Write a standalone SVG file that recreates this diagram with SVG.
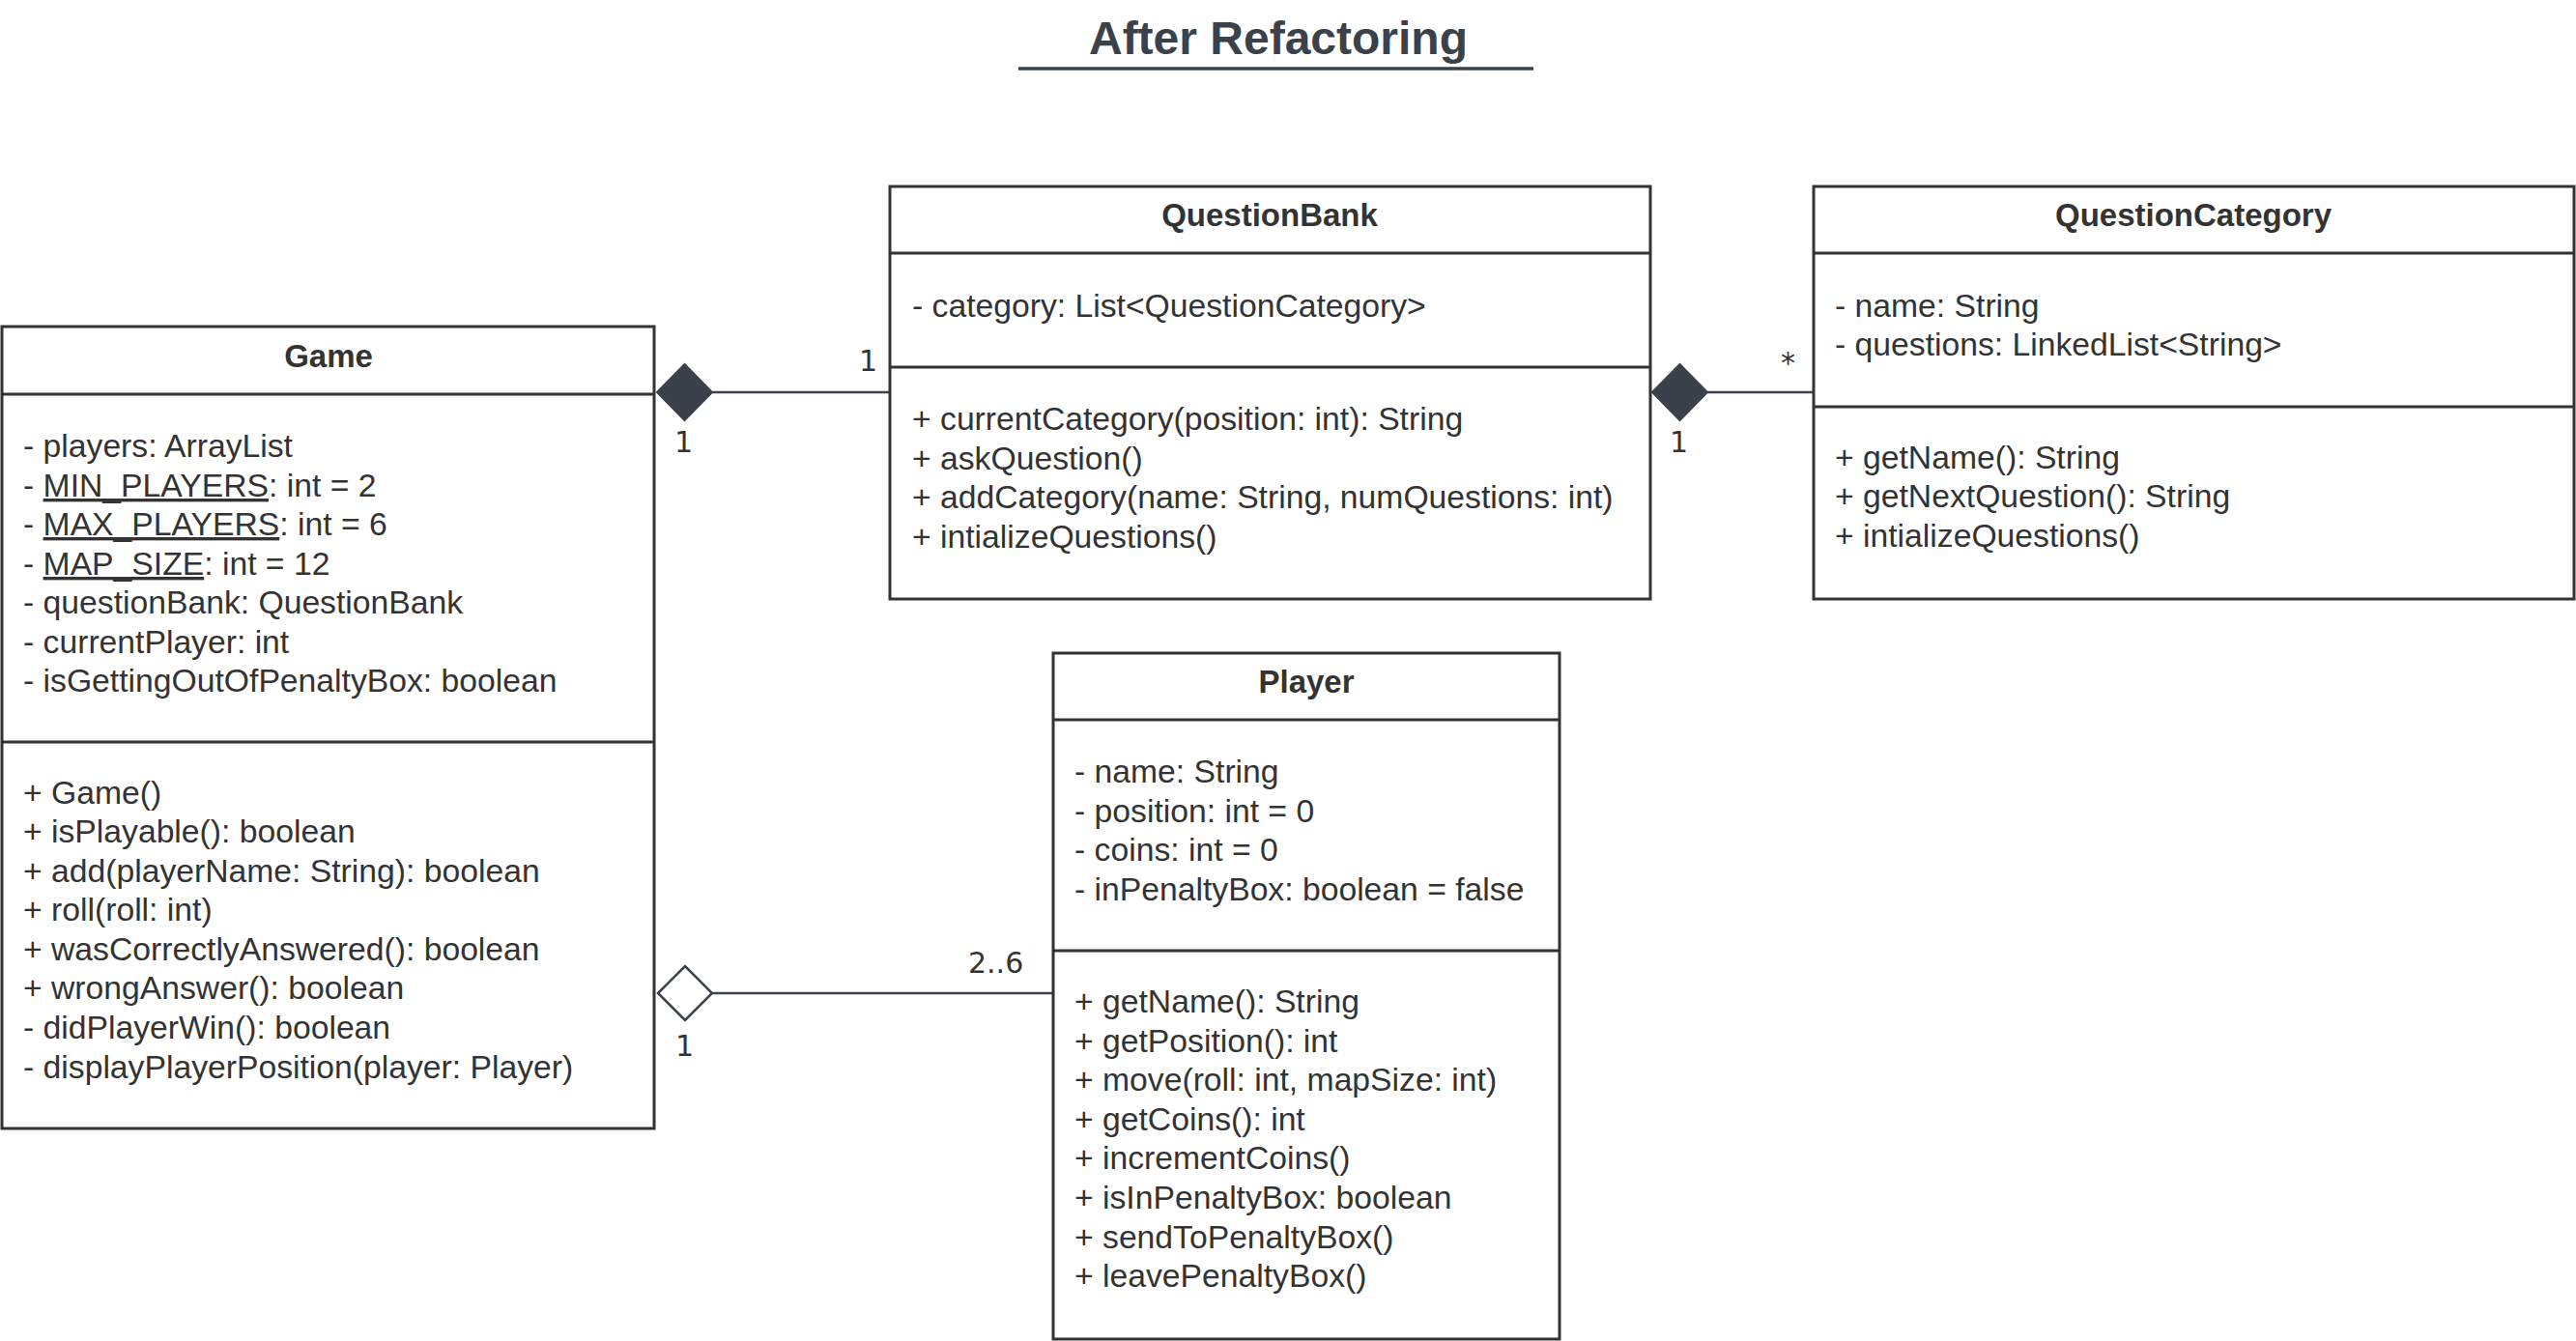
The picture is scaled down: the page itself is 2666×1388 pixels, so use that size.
<svg xmlns="http://www.w3.org/2000/svg" width="2666" height="1388" viewBox="0 0 2666 1388">
<style>
.box{fill:#ffffff;stroke:#333333;stroke-width:3}
.div{stroke:#333333;stroke-width:3}
.hd{font-family:"Liberation Sans",Arial,sans-serif;font-weight:bold;font-size:33px;fill:#333333;text-anchor:middle}
.tx{font-family:"Liberation Sans",Arial,sans-serif;font-size:33.7px;fill:#333333}
.lb{font-family:"DejaVu Sans",sans-serif;font-size:30px;fill:#333333}
.ln{stroke:#3a414b;stroke-width:2.5;fill:none}
.fd{fill:#3a414b;stroke:#3a414b;stroke-width:2}
.hdm{fill:#ffffff;stroke:#3a414b;stroke-width:2.5}
</style>
<rect width="2666" height="1388" fill="#ffffff"/>
<g id="title">
<text x="1323" y="56" font-family="Liberation Sans,Arial,sans-serif" font-weight="bold" font-size="48" fill="#3a414a" text-anchor="middle">After Refactoring</text>
<line x1="1054" y1="71" x2="1587" y2="71" stroke="#3a414a" stroke-width="3.5"/>
</g>
<g id="connectors">
<line class="ln" x1="737" y1="406" x2="920" y2="406"/>
<polygon class="fd" points="680,406 708.5,377 737,406 708.5,435"/>
<text class="lb" x="889" y="384">1</text>
<text class="lb" x="698" y="468">1</text>
<line class="ln" x1="1767" y1="406" x2="1877" y2="406"/>
<polygon class="fd" points="1710,406 1738.5,377 1767,406 1738.5,435"/>
<text class="lb" x="1843" y="386">*</text>
<text class="lb" x="1728" y="468">1</text>
<line class="ln" x1="737" y1="1028" x2="1090" y2="1028"/>
<polygon class="hdm" points="681,1028 709,1000 737,1028 709,1056"/>
<text class="lb" x="1002" y="1007">2..6</text>
<text class="lb" x="699" y="1093">1</text>
</g>
<g id="Game">
<rect class="box" x="2" y="338" width="675" height="830"/>
<line class="div" x1="2" y1="408" x2="677" y2="408"/>
<line class="div" x1="2" y1="768" x2="677" y2="768"/>
<text class="hd" x="340" y="380">Game</text>
<text class="tx" x="24" y="473">- players: ArrayList</text>
<text class="tx" x="24" y="514">- <tspan text-decoration="underline">MIN_PLAYERS</tspan>: int = 2</text>
<text class="tx" x="24" y="554">- <tspan text-decoration="underline">MAX_PLAYERS</tspan>: int = 6</text>
<text class="tx" x="24" y="595">- <tspan text-decoration="underline">MAP_SIZE</tspan>: int = 12</text>
<text class="tx" x="24" y="635">- questionBank: QuestionBank</text>
<text class="tx" x="24" y="676">- currentPlayer: int</text>
<text class="tx" x="24" y="716">- isGettingOutOfPenaltyBox: boolean</text>
<text class="tx" x="24" y="832">+ Game()</text>
<text class="tx" x="24" y="872">+ isPlayable(): boolean</text>
<text class="tx" x="24" y="913">+ add(playerName: String): boolean</text>
<text class="tx" x="24" y="953">+ roll(roll: int)</text>
<text class="tx" x="24" y="994">+ wasCorrectlyAnswered(): boolean</text>
<text class="tx" x="24" y="1034">+ wrongAnswer(): boolean</text>
<text class="tx" x="24" y="1075">- didPlayerWin(): boolean</text>
<text class="tx" x="24" y="1116">- displayPlayerPosition(player: Player)</text>
</g>
<g id="QuestionBank">
<rect class="box" x="921" y="193" width="787" height="427"/>
<line class="div" x1="921" y1="262" x2="1708" y2="262"/>
<line class="div" x1="921" y1="380" x2="1708" y2="380"/>
<text class="hd" x="1314" y="234">QuestionBank</text>
<text class="tx" x="944" y="328">- category: List&lt;QuestionCategory&gt;</text>
<text class="tx" x="944" y="445">+ currentCategory(position: int): String</text>
<text class="tx" x="944" y="486">+ askQuestion()</text>
<text class="tx" x="944" y="526">+ addCategory(name: String, numQuestions: int)</text>
<text class="tx" x="944" y="567">+ intializeQuestions()</text>
</g>
<g id="QuestionCategory">
<rect class="box" x="1877" y="193" width="787" height="427"/>
<line class="div" x1="1877" y1="262" x2="2664" y2="262"/>
<line class="div" x1="1877" y1="421" x2="2664" y2="421"/>
<text class="hd" x="2270" y="234">QuestionCategory</text>
<text class="tx" x="1899" y="328">- name: String</text>
<text class="tx" x="1899" y="368">- questions: LinkedList&lt;String&gt;</text>
<text class="tx" x="1899" y="485">+ getName(): String</text>
<text class="tx" x="1899" y="525">+ getNextQuestion(): String</text>
<text class="tx" x="1899" y="566">+ intializeQuestions()</text>
</g>
<g id="Player">
<rect class="box" x="1090" y="676" width="524" height="710"/>
<line class="div" x1="1090" y1="745" x2="1614" y2="745"/>
<line class="div" x1="1090" y1="984" x2="1614" y2="984"/>
<text class="hd" x="1352" y="717">Player</text>
<text class="tx" x="1112" y="810">- name: String</text>
<text class="tx" x="1112" y="851">- position: int = 0</text>
<text class="tx" x="1112" y="891">- coins: int = 0</text>
<text class="tx" x="1112" y="932">- inPenaltyBox: boolean = false</text>
<text class="tx" x="1112" y="1048">+ getName(): String</text>
<text class="tx" x="1112" y="1089">+ getPosition(): int</text>
<text class="tx" x="1112" y="1129">+ move(roll: int, mapSize: int)</text>
<text class="tx" x="1112" y="1170">+ getCoins(): int</text>
<text class="tx" x="1112" y="1210">+ incrementCoins()</text>
<text class="tx" x="1112" y="1251">+ isInPenaltyBox: boolean</text>
<text class="tx" x="1112" y="1292">+ sendToPenaltyBox()</text>
<text class="tx" x="1112" y="1332">+ leavePenaltyBox()</text>
</g>
</svg>
